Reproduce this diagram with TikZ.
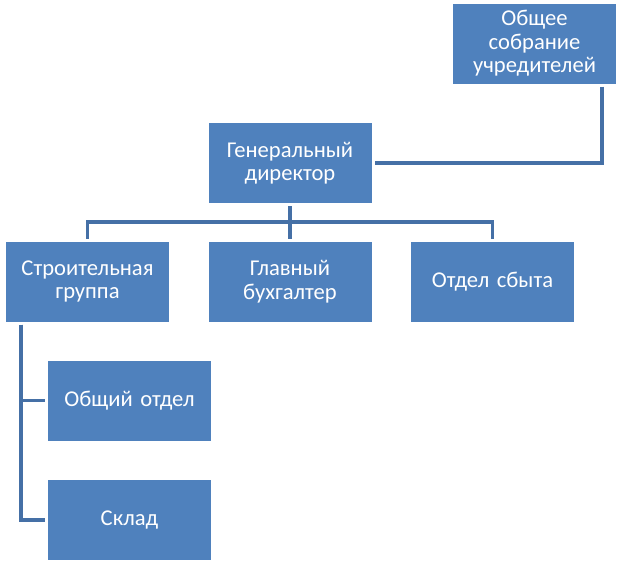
\documentclass[tikz,border=0pt]{standalone}
\usepackage{fontspec}
\setmainfont[WordSpace=0.85]{Carlito}
\usepackage{tikz}
\usetikzlibrary{calc}

\definecolor{boxblue}{HTML}{4F81BD}
\definecolor{lineblue}{HTML}{4570A6}

\tikzset{
	orgbox/.style={fill=boxblue, text=white, minimum width=163pt, minimum height=80pt,
		text width=155pt, align=center, inner sep=0pt, outer sep=3pt,
		font=\fontsize{22.6}{23.5}\selectfont},
	link/.style={draw=lineblue, line width=3.5pt, line join=miter}
}

\begin{document}
\begin{tikzpicture}[x=1pt,y=-1pt]
	\useasboundingbox (0,0) rectangle (622,563);
	\node[orgbox] (sobr) at (534.5,43.5) {Общее\\собрание\\учредителей};
	\node[orgbox] (gen) at (290,163) {Генеральный\\директор};
	\node[orgbox] (stroi) at (87.5,281.5) {Строительная\\группа};
	\node[orgbox] (buh) at (290,281.5) {Главный\\бухгалтер};
	\node[orgbox] (sbyt) at (492.5,281.5) {Отдел сбыта};
	\node[orgbox] (obsh) at (129.5,400.5) {Общий отдел};
	\node[orgbox] (sklad) at (129.5,520) {Склад};
	% links
	\draw[link] ([xshift=-17pt]sobr.south east) |- (gen.east);
	\draw[link] (gen.south) -- ++(0,16) -| (stroi.north);
	\draw[link] (gen.south) -- (buh.north);
	\draw[link] (gen.south) -- ++(0,16) -| (sbyt.north);
	\draw[link] ([xshift=18pt]stroi.south west) |- (obsh.west);
	\draw[link] ([xshift=18pt]stroi.south west) |- (sklad.west);
\end{tikzpicture}
\end{document}
